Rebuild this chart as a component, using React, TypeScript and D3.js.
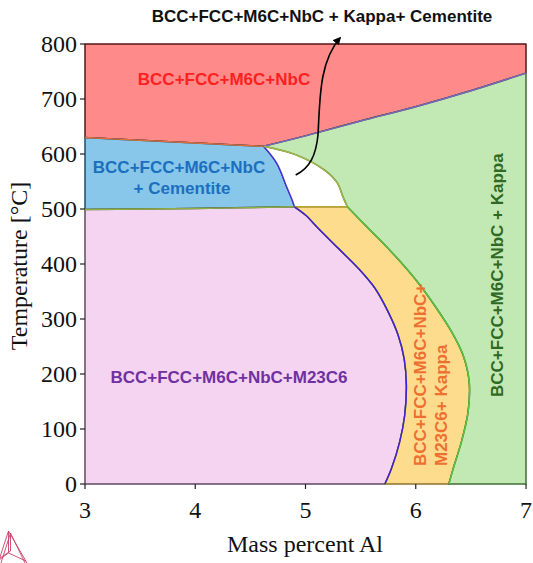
import React from 'react';
import * as d3 from 'd3';

type Pt = [number, number];

// axis ticks
const xTicks = [3, 4, 5, 6, 7];
const yTicks = [0, 100, 200, 300, 400, 500, 600, 700, 800];

// phase boundaries, [mass % Al, temperature °C]
const redBlue: Pt[] = [[3, 630], [3.5, 625], [4, 620], [4.62, 614]];
const redGreen: Pt[] = [[4.62, 614], [5, 633], [5.5, 660], [6, 686], [6.5, 715], [7, 747]];
const bluePink: Pt[] = [[3, 499], [4, 501], [4.9, 504]];
const whiteLeft: Pt[] = [[4.62, 614], [4.74, 583], [4.83, 540], [4.88, 516], [4.9, 504]];
const whiteRight: Pt[] = [[4.62, 614], [4.92, 598], [5.17, 571], [5.29, 547], [5.34, 522], [5.38, 504]];
const flatLine: Pt[] = [[4.9, 504], [5.38, 504]];
const pinkYellow: Pt[] = [
  [4.9, 504], [5.0, 489], [5.115, 465], [5.3, 428], [5.48, 392], [5.63, 356], [5.75, 313],
  [5.84, 271], [5.895, 228], [5.915, 180], [5.9, 125], [5.855, 77], [5.78, 28], [5.72, 0],
];
const yellowGreen: Pt[] = [
  [5.38, 504], [5.57, 465], [5.78, 422], [5.99, 374], [6.17, 325], [6.325, 277], [6.43, 234],
  [6.485, 186], [6.475, 131], [6.415, 77], [6.34, 28], [6.3, 0],
];

const x = d3.scaleLinear().domain([3, 7]).range([85, 526]);
const y = d3.scaleLinear().domain([0, 800]).range([484, 44]);

const smooth = d3.line<Pt>().x((d) => x(d[0])).y((d) => y(d[1])).curve(d3.curveCatmullRom.alpha(0.5));
const straight = d3.line<Pt>().x((d) => x(d[0])).y((d) => y(d[1]));
const rev = (a: Pt[]) => [...a].reverse();
const area = (...parts: string[]) => parts.map((p, i) => (i ? p.replace(/^M/, 'L') : p)).join('') + 'Z';

const regions = [
  {
    fill: '#fe8a8a', stroke: '#5a1515',
    d: area(straight([[3, 630], [3, 800], [7, 800], [7, 747]])!, smooth(rev(redGreen))!, smooth(rev(redBlue))!),
  },
  {
    fill: '#88c6ea', stroke: '#1d4f6e',
    d: area(smooth(redBlue)!, smooth(whiteLeft)!, smooth(rev(bluePink))!),
  },
  {
    fill: '#ffffff', stroke: 'none',
    d: area(smooth(whiteLeft)!, straight(flatLine)!, smooth(rev(whiteRight))!),
  },
  {
    fill: '#f4d4f0', stroke: '#5f4a60',
    d: area(smooth(bluePink)!, smooth(pinkYellow)!, straight([[5.72, 0], [3, 0]])!),
  },
  {
    fill: '#fedc8e', stroke: '#8a7030',
    d: area(straight(flatLine)!, smooth(yellowGreen)!, straight([[6.3, 0], [5.72, 0]])!, smooth(rev(pinkYellow))!),
  },
  {
    fill: '#c2e8b4', stroke: '#3f6e35',
    d: area(smooth(whiteRight)!, smooth(yellowGreen)!, straight([[6.3, 0], [7, 0], [7, 747]])!, smooth(rev(redGreen))!),
  },
];

const lines = [
  { d: smooth(redBlue), c: '#e0703a' },
  { d: smooth(redGreen), c: '#7a64c4' },
  { d: smooth(bluePink), c: '#8ab040' },
  { d: smooth(whiteLeft), c: '#4a2fd8' },
  { d: smooth(whiteRight), c: '#a8b848' },
  { d: straight(flatLine), c: '#b8a830' },
  { d: smooth(pinkYellow), c: '#3a22d8' },
  { d: smooth(yellowGreen), c: '#5cc43c' },
];

const sans = '"Liberation Sans", Arial, sans-serif';
const serif = '"Liberation Serif", "Times New Roman", serif';

export default function App() {
  return (
    <svg width={533} height={563} style={{ position: 'absolute', left: 0, top: 0, background: '#fff' }}>
      <defs>
        <marker id="ah" viewBox="0 0 10 10" refX="8" refY="5" markerWidth="5" markerHeight="5" orient="auto">
          <path d="M0,0 L10,5 L0,10 Z" fill="#000" />
        </marker>
      </defs>

      {regions.map((r, i) => (
        <path key={i} d={r.d} fill={r.fill} stroke={r.stroke} strokeWidth={1.5} strokeLinejoin="round" />
      ))}
      {lines.map((l, i) => (
        <path key={i} d={l.d!} fill="none" stroke={l.c} strokeWidth={1.4} />
      ))}

      {/* axes */}
      {yTicks.map((t) => (
        <g key={t}>
          <line x1={80} x2={85} y1={y(t)} y2={y(t)} stroke="#222" strokeWidth={1.2} />
          <text x={77} y={y(t) + 8} textAnchor="end" fontFamily={serif} fontSize={24} fill="#111">{t}</text>
        </g>
      ))}
      {xTicks.map((t) => (
        <g key={t}>
          <line x1={x(t)} x2={x(t)} y1={484} y2={489} stroke="#222" strokeWidth={1.2} />
          <text x={x(t)} y={518} textAnchor="middle" fontFamily={serif} fontSize={24} fill="#111">{t}</text>
        </g>
      ))}
      <text x={305} y={552} textAnchor="middle" fontFamily={serif} fontSize={24} fill="#111">Mass percent Al</text>
      <text transform="translate(27,266) rotate(-90)" textAnchor="middle" fontFamily={serif} fontSize={24} fill="#111">Temperature [°C]</text>

      {/* phase labels */}
      <g fontFamily={sans} fontWeight="bold" fontSize={17}>
        <text x={322} y={22} textAnchor="middle" fill="#111">BCC+FCC+M6C+NbC + Kappa+ Cementite</text>
        <text x={224} y={85} textAnchor="middle" fill="#ff1f1f">BCC+FCC+M6C+NbC</text>
        <text x={179} y={173} textAnchor="middle" fill="#1b6fbf">BCC+FCC+M6C+NbC</text>
        <text x={182} y={194} textAnchor="middle" fill="#1b6fbf">+ Cementite</text>
        <text x={229} y={383} textAnchor="middle" fill="#7030a0">BCC+FCC+M6C+NbC+M23C6</text>
        <text transform="translate(426,466) rotate(-90)" fill="#ee7030">BCC+FCC+M6C+NbC+</text>
        <text transform="translate(447,466) rotate(-90)" fill="#ee7030">M23C6+ Kappa</text>
        <text transform="translate(503,397) rotate(-90)" fill="#2e6a25">BCC+FCC+M6C+NbC + Kappa</text>
      </g>

      {/* arrow */}
      <path d="M295.7,175 C310,168 316,155 318,135 C320,100 319,62 340,38" fill="none" stroke="#000" strokeWidth={1.6} markerEnd="url(#ah)" />

      {/* logo */}
      <g fill="none" stroke="#c8406a" strokeWidth={0.9}>
        <path d="M8.5,531 L-2,563 M8.5,531 L27,563 M8.5,531 L8.5,553 M8.5,553 L-1,560 M8.5,553 L26,561" />
        <path d="M10.5,533 L1,563 M10.5,533 L25,563 M10.5,533 L10.5,551 M10.5,551 L0,558" />
      </g>
    </svg>
  );
}
